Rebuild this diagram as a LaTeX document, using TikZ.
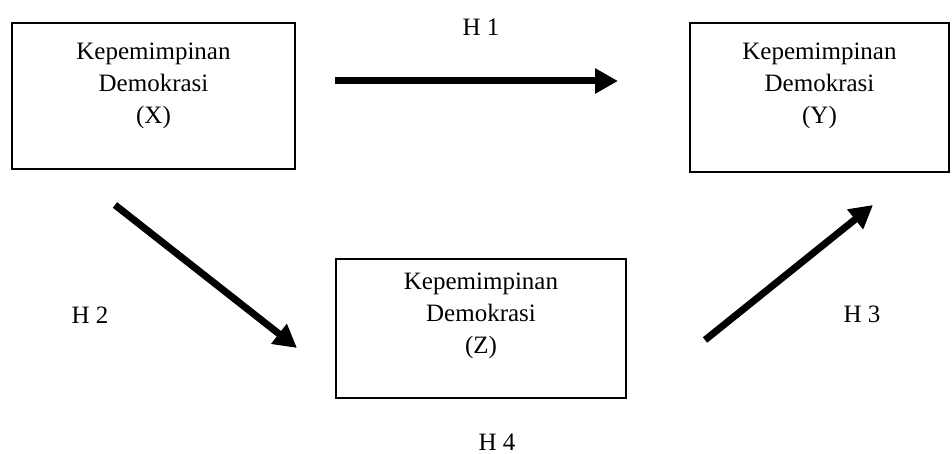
\documentclass[tikz,border=0pt]{standalone}
\usepackage{fontspec}
\setmainfont{Liberation Serif}
\usetikzlibrary{arrows.meta,positioning}
\begin{document}
\begin{tikzpicture}[x=0.5pt,y=-0.5pt,
    varbox/.style={draw,line width=0.8pt,inner sep=0pt},
    vartext/.style={align=center,inner sep=0pt,anchor=north,font=\fontsize{12.5}{16}\selectfont},
    hlabel/.style={inner sep=1pt,font=\fontsize{12.5}{16}\selectfont},
    bigarrow/.style={line width=3.5pt,-{Triangle[length=11.5pt,width=12pt]}}]
      \useasboundingbox (0,0) rectangle (952,454);

      \node[varbox,minimum width=141.5pt,minimum height=73pt] (boxX) at (153.5,96) {};
      \node[varbox,minimum width=129.5pt,minimum height=74.5pt] (boxY) at (819.5,97.5) {};
      \node[varbox,minimum width=145pt,minimum height=69.5pt] (boxZ) at (481,328.5) {};

      \node[vartext,below=10pt of boxX.north] (textX) {Kepemimpinan\\Demokrasi\\(X)};
      \node[vartext,below=10pt of boxY.north] (textY) {Kepemimpinan\\Demokrasi\\(Y)};
      \node[vartext,below=7pt of boxZ.north] (textZ) {Kepemimpinan\\Demokrasi\\(Z)};

      \node[hlabel] (h1) at (481,27) {H 1};
      \node[hlabel] (h2) at (90,315) {H 2};
      \node[hlabel] (h3) at (862,314) {H 3};
      \node[hlabel] (h4) at (497,442) {H 4};

      \coordinate (h1s) at (335,81);
      \coordinate (h1e) at (618,81);
      \coordinate (h2s) at (115,205);
      \coordinate (h2e) at (297,348);
      \coordinate (h3s) at (705,340);
      \coordinate (h3e) at (873,205);

      \draw[bigarrow] (h1s) -- (h1e);
      \draw[bigarrow] (h2s) -- (h2e);
      \draw[bigarrow] (h3s) -- (h3e);
    \end{tikzpicture}
\end{document}
